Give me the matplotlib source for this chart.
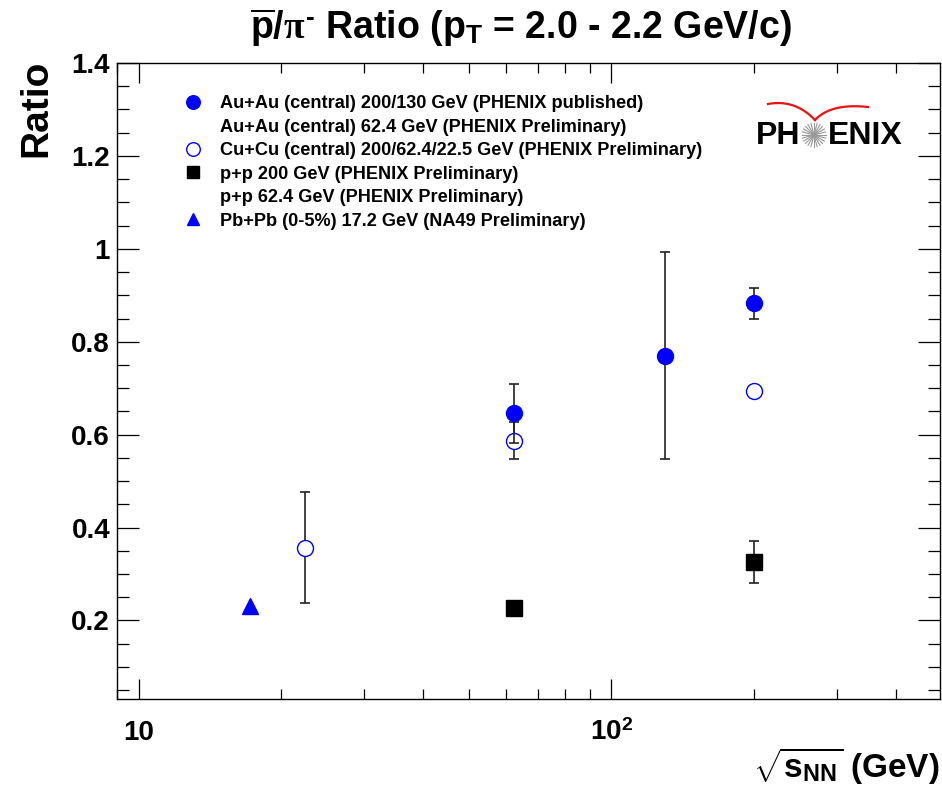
import matplotlib
matplotlib.use('Agg')
import matplotlib.pyplot as plt
from matplotlib.lines import Line2D
from matplotlib.ticker import FixedLocator, NullFormatter
import numpy as np

plt.rcParams['font.family'] = ['Liberation Sans', 'DejaVu Sans']
plt.rcParams['font.weight'] = 'bold'
plt.rcParams['mathtext.fontset'] = 'custom'
plt.rcParams['mathtext.rm'] = 'Liberation Sans:bold'
plt.rcParams['mathtext.bf'] = 'Liberation Sans:bold'
plt.rcParams['mathtext.sf'] = 'Liberation Sans:bold'
plt.rcParams['mathtext.it'] = 'Liberation Serif'

# ---------------- data ----------------
auau_energy = [200, 130, 62.4]
auau_ratio = [0.883, 0.770, 0.646]
auau_err = [0.033, 0.223, 0.063]

cucu_energy = [200, 62.4, 22.5]
cucu_ratio = [0.695, 0.587, 0.357]
cucu_err = [0.010, 0.040, 0.120]

pp_energy = [200, 62.4]
pp_ratio = [0.326, 0.226]
pp_err = [0.045, 0.0]

pbpb_energy = [17.2]
pbpb_ratio = [0.232]

legend_labels = [
    "Au+Au (central) 200/130 GeV (PHENIX published)",
    "Au+Au (central) 62.4 GeV (PHENIX Preliminary)",
    "Cu+Cu (central) 200/62.4/22.5 GeV (PHENIX Preliminary)",
    "p+p 200 GeV (PHENIX Preliminary)",
    "p+p 62.4 GeV (PHENIX Preliminary)",
    "Pb+Pb (0-5%) 17.2 GeV (NA49 Preliminary)",
]

y_ticks = [0.2, 0.4, 0.6, 0.8, 1.0, 1.2, 1.4]
y_ticklabels = ["0.2", "0.4", "0.6", "0.8", "1", "1.2", "1.4"]
x_ticks = [10, 100]
x_ticklabels = ["10", r"$10^{2}$"]

# ---------------- figure ----------------
W, H = 942, 790
fig = plt.figure(figsize=(W / 100, H / 100), dpi=100)
L, R, T, B = 117, 940, 63, 699
ax = fig.add_axes([L / W, 1 - B / H, (R - L) / W, (B - T) / H])

ax.set_xscale('log')
ax.set_xlim(9, 496)
ax.set_ylim(0.031, 1.4)

BLUE = '#0000ff'
ms = 11.5

# Cu+Cu (open) first
ax.errorbar(cucu_energy, cucu_ratio, yerr=cucu_err, fmt='none', ecolor='#222222',
            elinewidth=1.2, capsize=3.3, capthick=1.2, zorder=2)
ax.plot(cucu_energy, cucu_ratio, ls='none', marker='o', ms=ms, mfc='white',
        mec=BLUE, mew=1.0, zorder=3)

# Au+Au filled
ax.errorbar(auau_energy, auau_ratio, yerr=auau_err, fmt='none', ecolor='#222222',
            elinewidth=1.2, capsize=3.3, capthick=1.2, zorder=4)
ax.plot(auau_energy, auau_ratio, ls='none', marker='o', ms=ms, mfc=BLUE,
        mec=BLUE, mew=1.0, zorder=5)

# p+p
ax.errorbar(pp_energy, pp_ratio, yerr=pp_err, fmt='none', ecolor='#222222',
            elinewidth=1.2, capsize=3.3, capthick=1.2, zorder=4)
ax.plot(pp_energy, pp_ratio, ls='none', marker='s', ms=11, mfc='black',
        mec='black', zorder=5)

# Pb+Pb
ax.plot(pbpb_energy, pbpb_ratio, ls='none', marker='^', ms=11, mfc=BLUE,
        mec=BLUE, zorder=5)

# ticks
ax.xaxis.set_major_locator(FixedLocator(x_ticks))
ax.set_xticklabels(x_ticklabels)
minor_x = [9, 20, 30, 40, 50, 60, 70, 80, 90, 200, 300, 400]
ax.xaxis.set_minor_locator(FixedLocator(minor_x))
ax.xaxis.set_minor_formatter(NullFormatter())
ax.yaxis.set_major_locator(FixedLocator(y_ticks))
ax.set_yticklabels(y_ticklabels)
ax.yaxis.set_minor_locator(FixedLocator(np.arange(0.05, 1.40, 0.05)))

ax.tick_params(which='both', direction='in', top=True, right=True, width=0.9,
               labelsize=20)
ax.tick_params(axis='x', which='major', length=14.5, pad=15)
ax.tick_params(axis='x', which='minor', length=7.5)
ax.tick_params(axis='y', which='major', length=16, pad=5)
ax.tick_params(axis='y', which='minor', length=8.5)
for s in ax.spines.values():
    s.set_linewidth(1.0)

# legend
handles = [
    Line2D([], [], ls='none', marker='o', ms=ms, mfc=BLUE, mec=BLUE),
    Line2D([], [], ls='none', marker='None'),
    Line2D([], [], ls='none', marker='o', ms=ms, mfc='white', mec=BLUE, mew=1.0),
    Line2D([], [], ls='none', marker='s', ms=11, mfc='black', mec='black'),
    Line2D([], [], ls='none', marker='None'),
    Line2D([], [], ls='none', marker='^', ms=11, mfc=BLUE, mec=BLUE),
]
ax.legend(handles, legend_labels, loc='upper left',
          bbox_to_anchor=(184 / W, 1 - 95 / H), bbox_transform=fig.transFigure,
          frameon=False, fontsize=13.1, handlelength=1.0, handletextpad=1.0,
          labelspacing=0.36, borderpad=0, borderaxespad=0, markerscale=0.85)

# title and axis labels
fig.text(521 / W, 1 - 28 / H,
         r"$\overline{\mathrm{p}}/\pi^{\text{-}}$ Ratio ($\mathrm{p}_{\mathrm{T}}$ = 2.0 - 2.2 GeV/c)",
         ha='center', va='center', fontsize=27, fontweight='bold')
fig.text(36 / W, 1 - 60 / H, "Ratio", rotation=90, ha='center', va='top',
         fontsize=28, fontweight='bold')
fig.text(940 / W, 1 - 766 / H, r"$\sqrt{\mathrm{s}_{\mathrm{NN}}}$ (GeV)",
         ha='right', va='center', fontsize=24, fontweight='bold')

# PHENIX logo (decoration)
lx, ly, lw, lh = 745, 95, 170, 65
lg = fig.add_axes([lx / W, 1 - (ly + lh) / H, lw / W, lh / H])
lg.set_xlim(0, lw)
lg.set_ylim(lh, 0)
lg.axis('off')
lg.text(11, 41, "PH", ha='left', va='center', fontsize=23, fontweight='bold', color='black')
lg.text(83, 41, "ENIX", ha='left', va='center', fontsize=23, fontweight='bold', color='black')
cx, cy, rr = 69, 40, 12
for a in np.linspace(0, np.pi, 12, endpoint=False):
    lg.plot([cx - rr * np.cos(a), cx + rr * np.cos(a)],
            [cy - rr * np.sin(a), cy + rr * np.sin(a)], color='#999999', lw=0.8)
t = np.linspace(0, 1, 40)
def bez(p0, p1, p2):
    return ((1 - t) ** 2 * p0[0] + 2 * (1 - t) * t * p1[0] + t ** 2 * p2[0],
            (1 - t) ** 2 * p0[1] + 2 * (1 - t) * t * p1[1] + t ** 2 * p2[1])
xa, ya = bez((23, 9), (50, 4), (70, 25))
xb, yb = bez((70, 25), (86, 8), (123, 12))
lg.plot(xa, ya, color='#ee1111', lw=1.6)
lg.plot(xb, yb, color='#ee1111', lw=1.6)

fig.savefig('out.png', dpi=100)
